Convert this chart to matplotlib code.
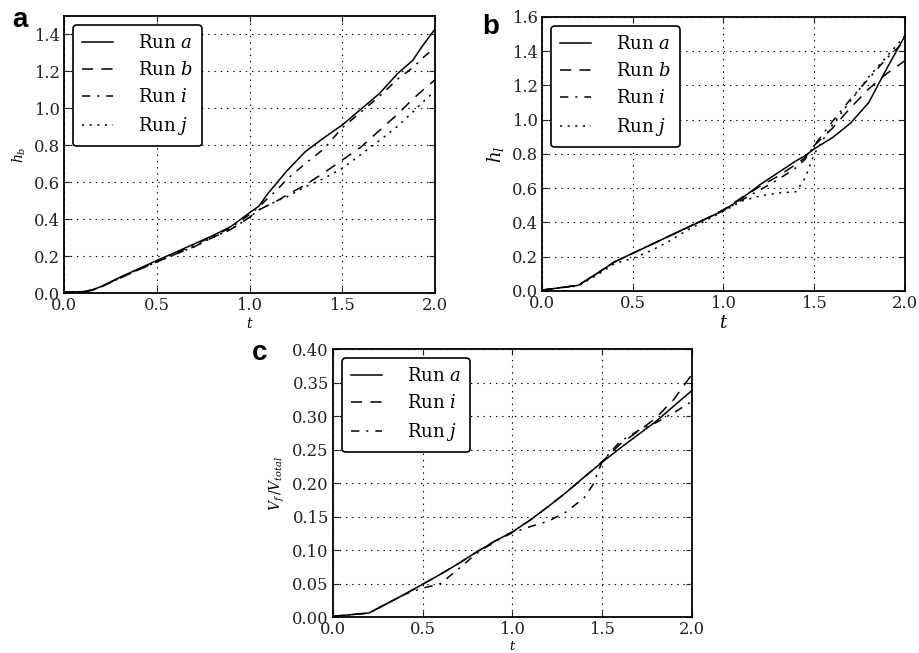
import matplotlib
matplotlib.use("Agg")
import matplotlib.pyplot as plt

# ---------------------
# data
# ---------------------

# (a) h_b
t_a = [0, 0.1, 0.15, 0.2, 0.25, 0.3, 0.4, 0.5, 0.6, 0.7, 0.8, 0.9, 1.0, 1.05,
       1.1, 1.15, 1.2, 1.3, 1.4, 1.5, 1.6, 1.7, 1.8, 1.88, 1.93, 2.0]
hb_a = [0.005, 0.007, 0.016, 0.035, 0.06, 0.085, 0.13, 0.176, 0.22, 0.265, 0.31,
        0.36, 0.435, 0.47, 0.54, 0.6, 0.66, 0.765, 0.84, 0.91, 0.995, 1.08, 1.19,
        1.26, 1.335, 1.43]
hb_b = [0.005, 0.006, 0.014, 0.033, 0.057, 0.08, 0.125, 0.168, 0.21, 0.25, 0.3,
        0.345, 0.41, 0.45, 0.475, 0.5, 0.53, 0.585, 0.65, 0.72, 0.79, 0.88, 0.97,
        1.05, 1.095, 1.155]
hb_i = [0.005, 0.007, 0.016, 0.034, 0.058, 0.083, 0.128, 0.172, 0.215, 0.26,
        0.305, 0.355, 0.425, 0.465, 0.515, 0.56, 0.615, 0.7, 0.78, 0.895, 0.98,
        1.065, 1.16, 1.22, 1.27, 1.33]
hb_j = [0.005, 0.006, 0.014, 0.033, 0.057, 0.08, 0.125, 0.168, 0.21, 0.25, 0.3,
        0.345, 0.41, 0.45, 0.475, 0.5, 0.52, 0.575, 0.62, 0.675, 0.75, 0.825,
        0.905, 0.98, 1.03, 1.095]

# (b) h_l
t_b = [0, 0.2, 0.3, 0.4, 0.5, 0.6, 0.7, 0.8, 0.9, 1.0, 1.1, 1.2, 1.3, 1.4, 1.45,
       1.5, 1.6, 1.7, 1.8, 1.9, 2.0]
hl_a = [0.005, 0.033, 0.10, 0.17, 0.22, 0.27, 0.32, 0.37, 0.42, 0.47, 0.54, 0.62,
        0.69, 0.76, 0.79, 0.83, 0.895, 0.98, 1.10, 1.30, 1.49]
hl_b = [0.005, 0.033, 0.10, 0.17, 0.22, 0.27, 0.32, 0.37, 0.42, 0.475, 0.545,
        0.61, 0.67, 0.74, 0.78, 0.85, 0.95, 1.07, 1.18, 1.27, 1.345]
hl_i = [0.005, 0.033, 0.10, 0.17, 0.22, 0.27, 0.32, 0.37, 0.42, 0.47, 0.53, 0.59,
        0.65, 0.72, 0.77, 0.85, 0.99, 1.12, 1.24, 1.36, 1.46]
hl_j = [0.005, 0.03, 0.09, 0.16, 0.19, 0.235, 0.29, 0.355, 0.41, 0.465, 0.525,
        0.555, 0.572, 0.58, 0.66, 0.80, 0.97, 1.11, 1.25, 1.37, 1.49]

# (c) V_f / V_total
t_c = [0, 0.2, 0.3, 0.4, 0.5, 0.6, 0.7, 0.8, 0.9, 1.0, 1.1, 1.2, 1.3, 1.4, 1.45,
       1.5, 1.6, 1.7, 1.8, 1.9, 2.0]
vf_a = [0.001, 0.006, 0.02, 0.034, 0.049, 0.064, 0.08, 0.097, 0.113, 0.127, 0.145,
        0.165, 0.186, 0.209, 0.22, 0.231, 0.252, 0.272, 0.292, 0.315, 0.338]
vf_i = [0.001, 0.006, 0.02, 0.034, 0.049, 0.064, 0.08, 0.097, 0.113, 0.127, 0.145,
        0.165, 0.186, 0.209, 0.22, 0.232, 0.258, 0.277, 0.297, 0.325, 0.362]
vf_j = [0.001, 0.006, 0.02, 0.034, 0.043, 0.05, 0.072, 0.095, 0.112, 0.126, 0.135,
        0.143, 0.157, 0.178, 0.198, 0.232, 0.262, 0.278, 0.29, 0.305, 0.322]

x_ticks = [0.0, 0.5, 1.0, 1.5, 2.0]

# ---------------------
# style
# ---------------------
plt.rcParams['font.family'] = ['DejaVu Serif']
plt.rcParams['mathtext.fontset'] = 'dejavuserif'
plt.rcParams['lines.scale_dashes'] = False
plt.rcParams['axes.linewidth'] = 1.3

styles = {'solid': '-', 'dashed': (0, (8, 6)), 'dashdot': (0, (6, 5, 1.5, 5)),
          'dotted': (0, (1.5, 4))}

fig = plt.figure(figsize=(9.2, 6.53), dpi=100)
fig.patch.set_facecolor('white')


def setup(ax, ylim, yticks, ylabel, yfmt):
    ax.set_xlim(0, 2)
    ax.set_ylim(*ylim)
    ax.set_xticks(x_ticks)
    ax.set_xticklabels(["%.1f" % v for v in x_ticks])
    ax.set_yticks(yticks)
    ax.set_yticklabels([yfmt % v for v in yticks])
    ax.tick_params(direction='in', top=True, right=True, length=4, width=0.8,
                   labelsize=11.8, colors='#222222', pad=3)
    ax.grid(True, linestyle=(0, (1, 3.5)), color='k', linewidth=0.8)
    ax.set_xlabel(r'$t$', fontsize=10, labelpad=1)
    ax.set_ylabel(ylabel, fontsize=10, labelpad=4)
    leg = ax.legend(loc='upper left', fontsize=13, fancybox=True, framealpha=1,
                    edgecolor='k', handlelength=1.7, handletextpad=1.4,
                    labelspacing=0.5, borderpad=0.5,
                    bbox_to_anchor=(0.0, 1.0), borderaxespad=0.5)
    leg.get_frame().set_linewidth(1.2)


# ---------------------
# (a)
# ---------------------
ax1 = fig.add_axes([0.0696, 0.5513, 0.4033, 0.4242])
ax1.plot(t_a, hb_a, color='k', lw=1.1, linestyle=styles['solid'], label=r'Run $a$')
ax1.plot(t_a, hb_b, color='k', lw=1.1, linestyle=styles['dashed'], label=r'Run $b$')
ax1.plot(t_a, hb_i, color='k', lw=1.1, linestyle=styles['dashdot'], label=r'Run $i$')
ax1.plot(t_a, hb_j, color='k', lw=1.1, linestyle=styles['dotted'], label=r'Run $j$')
setup(ax1, (0, 1.5), [0.0, 0.2, 0.4, 0.6, 0.8, 1.0, 1.2, 1.4], r'$h_b$', "%.1f")

# ---------------------
# (b)
# ---------------------
ax2 = fig.add_axes([0.5891, 0.5544, 0.3946, 0.4196])
ax2.plot(t_b, hl_a, color='k', lw=1.1, linestyle=styles['solid'], label=r'Run $a$')
ax2.plot(t_b, hl_b, color='k', lw=1.1, linestyle=styles['dashed'], label=r'Run $b$')
ax2.plot(t_b, hl_i, color='k', lw=1.1, linestyle=styles['dashdot'], label=r'Run $i$')
ax2.plot(t_b, hl_j, color='k', lw=1.1, linestyle=styles['dotted'], label=r'Run $j$')
setup(ax2, (0, 1.6), [0.0, 0.2, 0.4, 0.6, 0.8, 1.0, 1.2, 1.4, 1.6], r'$h_l$', "%.1f")
ax2.yaxis.label.set_size(13)
ax2.xaxis.label.set_size(13)

# ---------------------
# (c)
# ---------------------
ax3 = fig.add_axes([0.362, 0.0551, 0.390, 0.4104])
ax3.plot(t_c, vf_a, color='k', lw=1.1, linestyle=styles['solid'], label=r'Run $a$')
ax3.plot(t_c, vf_i, color='k', lw=1.1, linestyle=styles['dashed'], label=r'Run $i$')
ax3.plot(t_c, vf_j, color='k', lw=1.1, linestyle=styles['dashdot'], label=r'Run $j$')
setup(ax3, (0, 0.40), [0.0, 0.05, 0.10, 0.15, 0.20, 0.25, 0.30, 0.35, 0.40],
      r'$V_f\,/V_{total}$', "%.2f")
ax3.xaxis.label.set_size(9)

# panel letters
for x, y, s in [(0.013, 0.958, 'a'), (0.524, 0.948, 'b'), (0.274, 0.448, 'c')]:
    fig.text(x, y, s, family='Liberation Sans', weight='bold', fontsize=20)

fig.savefig('out.png', dpi=100, facecolor='white')
